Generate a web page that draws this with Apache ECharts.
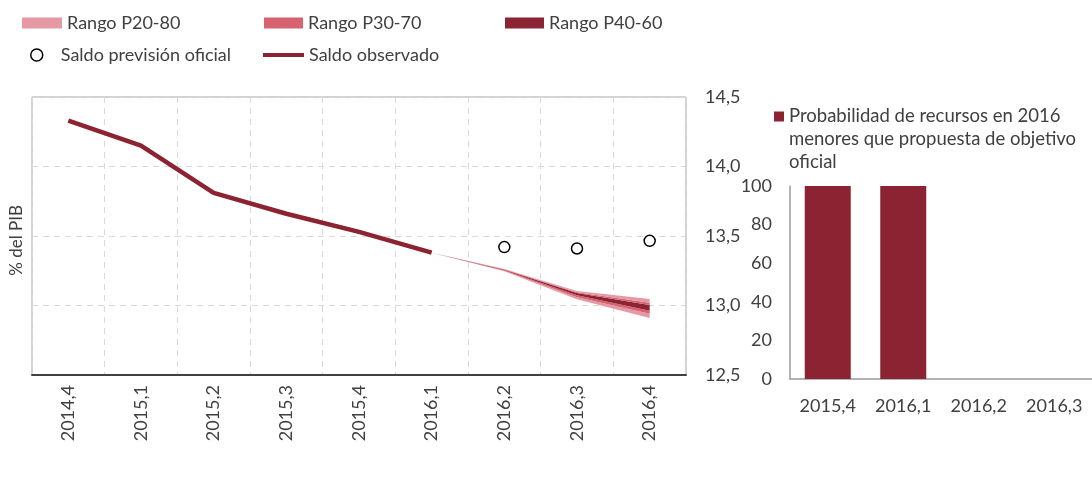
<!DOCTYPE html>
<html>
<head>
<meta charset="utf-8">
<script src="https://cdn.jsdelivr.net/npm/echarts@6/dist/echarts.min.js"></script>
<style>
  html, body { margin: 0; padding: 0; background: #fff; }
  #chart { width: 1092px; height: 495px; }
</style>
</head>
<body>
<div id="chart"></div>
<script>
// trimestres del grafico principal
const quarters = ['2014,4', '2015,1', '2015,2', '2015,3', '2015,4', '2016,1', '2016,2', '2016,3', '2016,4']
// saldo observado (% del PIB)
const observed = [14.33, 14.15, 13.81, 13.66, 13.53, 13.38, '-', '-', '-']
// saldo prevision oficial
const official = ['-', '-', '-', '-', '-', '-', 13.42, 13.41, 13.465]
// percentiles del abanico
const p20 = ['-', '-', '-', '-', '-', 13.38, 13.247, 13.045, 12.91]
const p30 = ['-', '-', '-', '-', '-', 13.38, 13.250, 13.060, 12.94]
const p40 = ['-', '-', '-', '-', '-', 13.38, 13.253, 13.074, 12.962]
const p60 = ['-', '-', '-', '-', '-', 13.38, 13.257, 13.090, 13.004]
const p70 = ['-', '-', '-', '-', '-', 13.38, 13.260, 13.096, 13.02]
const p80 = ['-', '-', '-', '-', '-', 13.38, 13.263, 13.104, 13.047]
// grafico de barras
const probQuarters = ['2015,4', '2016,1', '2016,2', '2016,3']
const probValues = [100, 100, 0, 0]

const txt = '#404040'
const font = 'Lato'
const light = '#e599a4'
const mid = '#d6636f'
const dark = '#8b2433'
const probName = 'Probabilidad de recursos en 2016\nmenores que propuesta de objetivo\noficial'

function band (lo, hi) {
  return lo.map((v, i) => v === '-' ? '-' : +(hi[i] - v).toFixed(4))
}

function bandSeries (name, data, color) {
  return {
    name: name,
    type: 'line',
    stack: 'fan',
    data: data,
    symbol: 'none',
    itemStyle: { color: color },
    lineStyle: { width: 0, opacity: 0 },
    areaStyle: { color: color, opacity: 1 },
    z: 2
  }
}

let myChart = echarts.init(document.getElementById('chart'))
let legendText = { color: txt, fontSize: 18, fontFamily: font }
let option = {
  backgroundColor: '#fff',
  animation: false,
  textStyle: { fontFamily: font, color: txt },
  legend: [
    { left: 17, top: 9, icon: 'rect', itemWidth: 40, itemHeight: 11, data: ['Rango P20-80'], textStyle: legendText, selectedMode: false },
    { left: 259, top: 9, icon: 'rect', itemWidth: 39, itemHeight: 11, data: ['Rango P30-70'], textStyle: legendText, selectedMode: false },
    { left: 500, top: 9, icon: 'rect', itemWidth: 39, itemHeight: 11, data: ['Rango P40-60'], textStyle: legendText, selectedMode: false },
    {
      left: 25, top: 41, icon: 'circle', itemWidth: 26, itemHeight: 12, data: ['Saldo previsión oficial'],
      itemStyle: { color: '#fff', borderColor: '#000', borderWidth: 1.5 },
      textStyle: { color: txt, fontSize: 18, fontFamily: font, padding: [0, 0, 0, 6] },
      selectedMode: false
    },
    { left: 258, top: 41, icon: 'rect', itemWidth: 41, itemHeight: 4, data: ['Saldo observado'], textStyle: legendText, selectedMode: false },
    {
      left: 769, top: 100, icon: 'path://M0,0h10v10h-10z M0,56h10', itemWidth: 10, itemHeight: 56,
      data: [probName],
      textStyle: { color: txt, fontSize: 18.5, fontFamily: font, lineHeight: 23 },
      selectedMode: false
    }
  ],
  graphic: [
    {
      type: 'text',
      left: 8,
      top: 205,
      rotation: Math.PI / 2,
      style: { text: '% del PIB', fill: txt, fontSize: 17, fontFamily: font }
    }
  ],
  grid: [
    { left: 32, top: 97, width: 654, height: 278, show: true, borderColor: '#a6a6a6', borderWidth: 1 },
    { left: 790, top: 186, width: 308, height: 193 }
  ],
  xAxis: [
    {
      type: 'category',
      data: quarters,
      gridIndex: 0,
      boundaryGap: true,
      axisLine: { lineStyle: { color: '#404040', width: 2 } },
      axisTick: { show: false },
      splitLine: { show: true, lineStyle: { color: '#d9d9d9', type: [6, 5] } },
      axisLabel: { rotate: 90, margin: 10, color: txt, fontSize: 18, fontFamily: font }
    },
    {
      type: 'category',
      data: probQuarters,
      gridIndex: 1,
      axisLine: { lineStyle: { color: '#9a9a9a', width: 1.5 } },
      axisTick: { show: false },
      axisLabel: { margin: 18, color: txt, fontSize: 18, fontFamily: font }
    }
  ],
  yAxis: [
    {
      type: 'value',
      gridIndex: 0,
      position: 'right',
      min: 12.5,
      max: 14.5,
      interval: 0.5,
      axisLine: { show: false },
      axisTick: { show: false },
      splitLine: { lineStyle: { color: '#d9d9d9', type: [6, 5] } },
      axisLabel: {
        margin: 19,
        color: txt,
        fontSize: 18,
        fontFamily: font,
        formatter: function (v) { return v.toFixed(1).replace('.', ',') }
      }
    },
    {
      type: 'value',
      gridIndex: 1,
      min: 0,
      max: 100,
      interval: 20,
      axisLine: { show: true, lineStyle: { color: '#9a9a9a', width: 1.5 } },
      axisTick: { show: false },
      splitLine: { show: false },
      axisLabel: { margin: 18, color: txt, fontSize: 18, fontFamily: font }
    }
  ],
  series: [
    {
      name: '_base',
      type: 'line',
      stack: 'fan',
      data: p20,
      symbol: 'none',
      lineStyle: { width: 0, opacity: 0 },
      z: 2
    },
    bandSeries('Rango P20-80', band(p20, p30), light),
    bandSeries('Rango P30-70', band(p30, p40), mid),
    bandSeries('Rango P40-60', band(p40, p60), dark),
    bandSeries('Rango P30-70', band(p60, p70), mid),
    bandSeries('Rango P20-80', band(p70, p80), light),
    {
      name: 'Saldo observado',
      type: 'line',
      data: observed,
      symbol: 'none',
      itemStyle: { color: '#8b2332' },
      lineStyle: { color: '#8b2332', width: 4.5 },
      z: 4
    },
    {
      name: 'Saldo previsión oficial',
      type: 'scatter',
      data: official,
      symbol: 'circle',
      symbolSize: 11,
      itemStyle: { color: '#fff', borderColor: '#000', borderWidth: 1.5, opacity: 1 },
      z: 5
    },
    {
      name: probName,
      type: 'bar',
      xAxisIndex: 1,
      yAxisIndex: 1,
      data: probValues,
      barWidth: 46,
      itemStyle: { color: '#8b2332' }
    }
  ]
}
myChart.setOption(option)
</script>
</body>
</html>
